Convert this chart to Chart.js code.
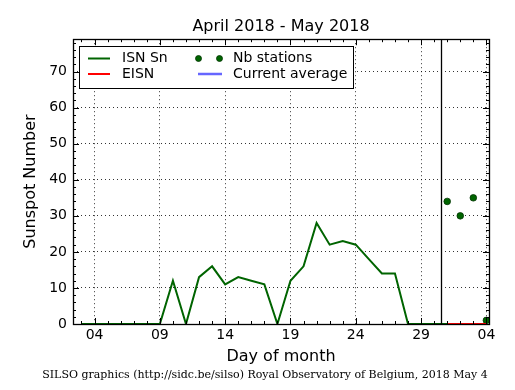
<!DOCTYPE html>
<html>
<head>
<meta charset="utf-8">
<script src="https://cdn.jsdelivr.net/npm/chart.js@4/dist/chart.umd.min.js"></script>
<style>
body { margin: 0; background: #fff; }
</style>
</head>
<body>
<canvas id="sunspotChart" width="515" height="390"></canvas>
<script>
// day index: April 1 = 1, May 1 = 31
const isnDays = [3,4,5,6,7,8,9,10,11,12,13,14,15,16,17,18,19,20,21,22,23,24,25,26,27,28,29,30,31];
const isnValues = [0,0,0,0,0,0,0,12,0,13,16,11,13,12,11,0,12,16,28,22,23,22,18,14,14,0,0,0,0];
const eisnDays = [31,32,33,34];
const eisnValues = [0,0,0,0];
const averageValues = [0,0,0,0];
const stationValues = [34,30,35,1];
const tickDays = [4,9,14,19,24,29,34];
const tickLabels = ["04","09","14","19","24","29","04"];
const yTicks = [0,10,20,30,40,50,60,70];
const markerDay = 30.5;

const green = "#006400";
const font = "DejaVu Sans";

function points(days, values) {
    return days.map((d, i) => ({ x: d, y: values[i] }));
}

const framePlugin = {
    id: "frame",
    afterDatasetsDraw(chart) {
        const { ctx, chartArea: a, scales: { x, y } } = chart;
        ctx.save();

        // vertical marker line
        const mx = Math.round(x.getPixelForValue(markerDay)) + 0.5;
        ctx.strokeStyle = "#000";
        ctx.lineWidth = 1.3;
        ctx.beginPath();
        ctx.moveTo(mx, a.top);
        ctx.lineTo(mx, a.bottom);
        ctx.stroke();

        // inward ticks on all sides
        ctx.lineWidth = 1;
        ctx.beginPath();
        for (let d = 3; d <= 34; d++) {
            const px = Math.round(x.getPixelForValue(d)) + 0.5;
            const len = tickDays.includes(d) ? 6 : 3;
            ctx.moveTo(px, a.bottom); ctx.lineTo(px, a.bottom - len);
            ctx.moveTo(px, a.top); ctx.lineTo(px, a.top + len);
        }
        for (let v = 0; v <= 78; v += 2) {
            const py = Math.round(y.getPixelForValue(v)) + 0.5;
            const len = v % 10 === 0 ? 6 : 3;
            ctx.moveTo(a.left, py); ctx.lineTo(a.left + len, py);
            ctx.moveTo(a.right, py); ctx.lineTo(a.right - len, py);
        }
        ctx.stroke();

        // frame
        ctx.lineWidth = 1.3;
        ctx.strokeRect(Math.round(a.left) + 0.5, Math.round(a.top) + 0.5,
            Math.round(a.right - a.left), Math.round(a.bottom - a.top));

        // legend
        const lx = 79.5, ly = 46.5, lw = 274, lh = 42;
        ctx.fillStyle = "#fff";
        ctx.fillRect(lx, ly, lw, lh);
        ctx.lineWidth = 1;
        ctx.strokeStyle = "#000";
        ctx.strokeRect(lx, ly, lw, lh);
        const row1 = 58.5, row2 = 74;
        ctx.lineWidth = 2;
        ctx.strokeStyle = green;
        ctx.beginPath(); ctx.moveTo(88, row1); ctx.lineTo(110, row1); ctx.stroke();
        ctx.strokeStyle = "#ff0000";
        ctx.beginPath(); ctx.moveTo(88, row2); ctx.lineTo(110, row2); ctx.stroke();
        ctx.strokeStyle = "#6666ff";
        ctx.lineWidth = 2.5;
        ctx.beginPath(); ctx.moveTo(198, row2); ctx.lineTo(222, row2); ctx.stroke();
        ctx.fillStyle = green;
        ctx.strokeStyle = "#003300";
        ctx.lineWidth = 0.8;
        [198.5, 219.5].forEach(cx => {
            ctx.beginPath(); ctx.arc(cx, row1, 3, 0, Math.PI * 2); ctx.fill(); ctx.stroke();
        });
        ctx.fillStyle = "#000";
        ctx.font = "14px '" + font + "'";
        ctx.textBaseline = "middle";
        ctx.textAlign = "left";
        ctx.fillText("ISN Sn", 122, row1);
        ctx.fillText("EISN", 122, row2);
        ctx.fillText("Nb stations", 233, row1);
        ctx.fillText("Current average", 233, row2);
        ctx.restore();
    },
    afterDraw(chart) {
        const ctx = chart.ctx;
        ctx.save();
        ctx.fillStyle = "#000";
        ctx.font = "11px 'DejaVu Serif'";
        ctx.textAlign = "center";
        ctx.textBaseline = "middle";
        ctx.fillText("SILSO graphics (http://sidc.be/silso) Royal Observatory of Belgium, 2018 May 4", 265, 375);
        ctx.restore();
    }
};

new Chart(document.getElementById("sunspotChart"), {
    type: "line",
    data: {
        datasets: [
            {
                label: "ISN Sn",
                data: points(isnDays, isnValues),
                borderColor: green,
                borderWidth: 2,
                pointRadius: 0,
                tension: 0
            },
            {
                label: "EISN",
                data: points(eisnDays, eisnValues),
                borderColor: "#ff0000",
                borderWidth: 2,
                pointRadius: 0
            },
            {
                label: "Current average",
                data: points(eisnDays, averageValues),
                borderColor: "rgba(102,102,255,0.6)",
                borderWidth: 2,
                pointRadius: 0
            },
            {
                label: "Nb stations",
                data: points(eisnDays, stationValues),
                showLine: false,
                pointRadius: 3.3,
                pointBackgroundColor: green,
                pointBorderColor: "#003300",
                pointBorderWidth: 0.8
            }
        ]
    },
    options: {
        responsive: false,
        animation: false,
        devicePixelRatio: 1,
        layout: { padding: { left: 0, right: 26, top: 0, bottom: 0 } },
        plugins: {
            legend: { display: false },
            tooltip: { enabled: false },
            title: {
                display: true,
                fullSize: false,
                text: "April 2018 - May 2018",
                color: "#000",
                font: { family: font, size: 16, weight: "normal" },
                padding: { top: 17, bottom: 3 }
            }
        },
        scales: {
            x: {
                type: "linear",
                min: 2.35,
                max: 34.2,
                afterBuildTicks: s => { s.ticks = tickDays.map(v => ({ value: v })); },
                afterFit: s => { s.height = 66; },
                ticks: {
                    autoSkip: false,
                    maxRotation: 0,
                    padding: 3,
                    color: "#000",
                    font: { family: font, size: 14 },
                    callback: v => tickLabels[tickDays.indexOf(v)]
                },
                grid: { color: "#000", lineWidth: 0.8, drawTicks: false },
                border: { display: false, dash: [1, 3] },
                title: {
                    display: true,
                    text: "Day of month",
                    color: "#000",
                    font: { family: font, size: 16 },
                    padding: { top: 0, bottom: 24 }
                }
            },
            y: {
                min: 0,
                max: 79,
                afterBuildTicks: s => { s.ticks = yTicks.map(v => ({ value: v })); },
                afterFit: s => { s.width = 73; },
                ticks: {
                    padding: 6,
                    color: "#000",
                    font: { family: font, size: 14 }
                },
                grid: { color: "#000", lineWidth: 0.8, drawTicks: false },
                border: { display: false, dash: [1, 3] },
                title: {
                    display: true,
                    text: "Sunspot Number",
                    color: "#000",
                    font: { family: font, size: 16 },
                    padding: { top: 21, bottom: 0 }
                }
            }
        }
    },
    plugins: [framePlugin]
});
</script>
</body>
</html>
